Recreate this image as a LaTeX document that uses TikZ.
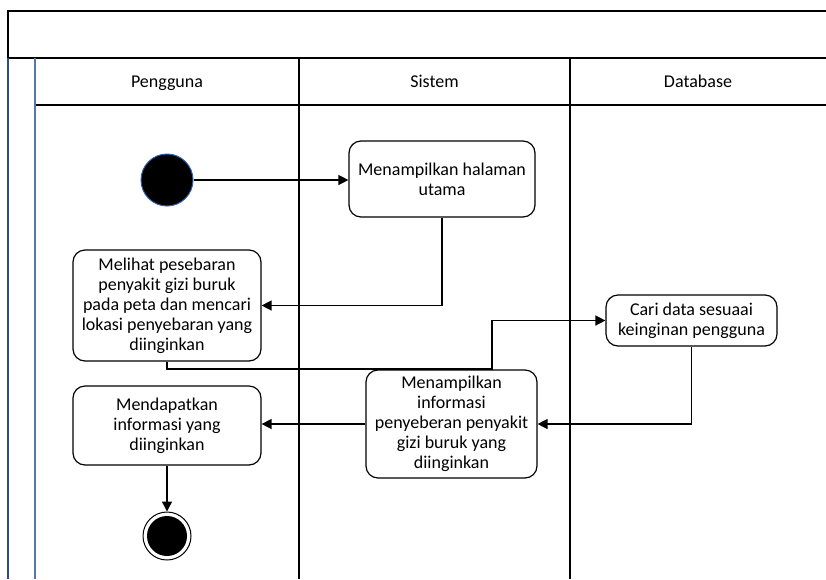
\documentclass[tikz,border=0pt]{standalone}
\usepackage{fontspec}
\setmainfont{Carlito}
\usetikzlibrary{arrows.meta}
\definecolor{laneblueA}{HTML}{2F4A8A}
\definecolor{laneblueB}{HTML}{5577AA}
\definecolor{startblue}{HTML}{3060B0}
\begin{document}
\begin{tikzpicture}[x=1pt,y=-1pt,
  actbox/.style={draw=black, line width=1.2pt, rounded corners=12pt, fill=white, align=center, inner sep=0pt, font=\fontsize{18}{20}\selectfont},
  lanetitle/.style={font=\fontsize{18}{20}\selectfont, inner sep=0pt, text height=12pt, text depth=4pt},
  frameline/.style={draw=black, line width=1.4pt},
  flow/.style={line width=1.4pt, -{Triangle[length=10pt,width=10pt]}}
]
\useasboundingbox (0,0) rectangle (826,579);
% frame
\draw[frameline] (8,58) -- (8,11) -- (826,11);
\draw[frameline] (8,58) -- (826,58);
\draw[frameline] (35,105) -- (826,105);
\draw[frameline] (299,58) -- (299,579);
\draw[frameline] (570,58) -- (570,579);
\draw[draw=laneblueA, line width=1.4pt] (8,58) -- (8,579);
\draw[draw=laneblueB, line width=1.4pt] (35,58) -- (35,579);
% lane titles
\node[lanetitle] (t1) at (167,83.5) {Pengguna};
\node[lanetitle] (t2) at (434.5,83.5) {Sistem};
\node[lanetitle] (t3) at (698,83.5) {Database};
% start / end
\node[circle, fill=black, draw=startblue, line width=1pt, minimum size=52pt, inner sep=0pt] (start) at (167,180) {};
\node[circle, fill=white, draw=black, line width=1pt, minimum size=48pt, inner sep=0pt] (endo) at (167,536) {};
\node[circle, fill=black, minimum size=40pt, inner sep=0pt] (endi) at (167,536) {};
% activities
\node[actbox, minimum width=186pt, minimum height=76pt] (b1) at (442,179) {Menampilkan halaman\\utama};
\node[actbox, minimum width=188pt, minimum height=111pt] (b2) at (167,305.5) {Melihat pesebaran\\penyakit gizi buruk\\pada peta dan mencari\\lokasi penyebaran yang\\diinginkan};
\node[actbox, minimum width=171pt, minimum height=51pt] (b3) at (691.5,320.5) {Cari data sesuaai\\keinginan pengguna};
\node[actbox, minimum width=171pt, minimum height=108pt] (b4) at (451.5,424) {Menampilkan\\informasi\\penyeberan penyakit\\gizi buruk yang\\diinginkan};
\node[actbox, minimum width=188pt, minimum height=79pt] (b5) at (167,425.5) {Mendapatkan\\informasi yang\\diinginkan};
\coordinate (j1) at (492,369);
% connectors
\draw[flow] (start.east) -- (start.east -| b1.west);
\draw[flow] (b1.south) |- (b2.east);
\draw[flow] (b2.south) |- (j1) |- (b3.west);
\draw[flow] (b3.south) |- (b4.east);
\draw[flow] (b4.west) -- (b4.west -| b5.east);
\draw[flow] (b5.south) -- (endo.north);
\end{tikzpicture}
\end{document}
